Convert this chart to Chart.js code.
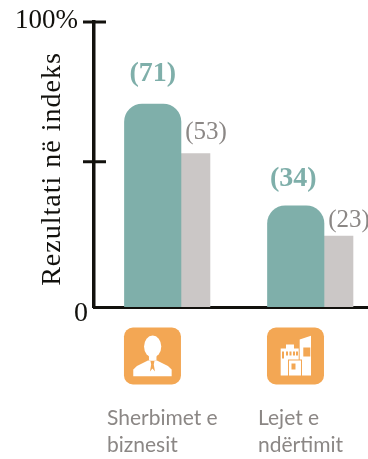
<!DOCTYPE html>
<html>
<head>
<meta charset="utf-8">
<style>html,body{margin:0;padding:0;background:#fff}#wrap{width:368px;height:459px}</style>
<script src="https://cdn.jsdelivr.net/npm/chart.js@4"></script>
</head>
<body>
<div id="wrap"><canvas id="c"></canvas></div>
<script>
const categories=[['Sherbimet e','biznesit'],['Lejet e','ndërtimit']];
const valuesMain=[71,34];
const valuesOther=[53,23];
const yTopLabel='100%';
const yBottomLabel='0';
const yTitle='Rezultati në indeks';

const SERIF='"Liberation Serif",serif';
const TEAL='#7fafaa',GREY='#cbc7c6',ORANGE='#f3a754',INK='#12110d',MUTED='#8b8785';
// the printed bars fit a scale whose ends sit just past 0 and 100,
// the "0" and "100%" marks are on those ends
const Y_FLOOR=-2.8;
const Y_CEIL=100.8;
const yTickValues=[50,Y_CEIL];
const ICON=57;

function person(ctx){
  ctx.fillStyle='#fff';
  ctx.beginPath();ctx.ellipse(28.7,19,8.6,11,0,0,Math.PI*2);ctx.fill();
  ctx.fillRect(25,27,7.5,6);
  ctx.beginPath();
  ctx.moveTo(9.3,48.7);ctx.lineTo(9.3,42);ctx.lineTo(13,38.5);ctx.lineTo(24,33);ctx.lineTo(33,33);
  ctx.lineTo(44,38.5);ctx.lineTo(47.7,42);ctx.lineTo(47.7,48.7);ctx.closePath();ctx.fill();
  ctx.fillStyle=ORANGE;
  ctx.beginPath();ctx.moveTo(26.5,33.5);ctx.lineTo(30.5,33.5);ctx.lineTo(29.8,37);ctx.lineTo(31,44);ctx.lineTo(28.5,41);ctx.lineTo(26,44);ctx.lineTo(27.2,37);ctx.closePath();ctx.fill();
}
function building(ctx){
  ctx.fillStyle='#fff';
  ctx.beginPath();ctx.moveTo(32.7,12);ctx.lineTo(44,8.3);ctx.lineTo(44,48);ctx.lineTo(32.7,48);ctx.closePath();ctx.fill();
  ctx.fillRect(13.7,21,18,27);
  ctx.fillRect(19,17,8,5);
  ctx.fillStyle=ORANGE;
  ctx.fillRect(36.3,20,7,9);
  [19,22.5,26,29].forEach(function(x){ctx.fillRect(x,24,2,4);});
  ctx.fillRect(15,24,2,7);
  ctx.fillStyle=ORANGE;ctx.fillRect(21,32,14,17);
  ctx.fillStyle='#fff';ctx.fillRect(22,33,12,15);
  ctx.fillStyle=ORANGE;ctx.fillRect(24.5,36,4,6);
}
const iconDrawers=[person,building];

const decor={
  id:'decor',
  afterDatasetsDraw(chart){
    const ctx=chart.ctx,y=chart.scales.y,x=chart.scales.x;
    const axisX=chart.chartArea.left;
    ctx.save();
    // ticks cross the axis on both sides
    ctx.strokeStyle=INK;ctx.lineWidth=3;
    yTickValues.forEach(function(v){
      const py=y.getPixelForValue(v);
      ctx.beginPath();ctx.moveTo(axisX-11,py);ctx.lineTo(axisX+12,py);ctx.stroke();
    });
    ctx.fillStyle=INK;ctx.textBaseline='alphabetic';
    ctx.font='27px '+SERIF;ctx.textAlign='right';
    ctx.fillText(yTopLabel,78,y.getPixelForValue(Y_CEIL)+6);
    ctx.font='28px '+SERIF;
    ctx.fillText(yBottomLabel,88,y.getPixelForValue(Y_FLOOR)+14);
    ctx.save();
    ctx.translate(60,169);ctx.rotate(-Math.PI/2);
    ctx.textAlign='center';ctx.font='28px '+SERIF;ctx.letterSpacing='1px';
    ctx.fillText(yTitle,0,0);
    ctx.restore();
    // value labels
    const main=chart.getDatasetMeta(0).data,other=chart.getDatasetMeta(1).data;
    ctx.textAlign='center';
    ctx.font='bold 28px '+SERIF;ctx.fillStyle=TEAL;
    main.forEach(function(b,i){ctx.fillText('('+valuesMain[i]+')',b.x-(i?2.5:0),b.y-(i?20:23));});
    ctx.font='25px '+SERIF;ctx.fillStyle=MUTED;
    other.forEach(function(b,i){ctx.fillText('('+valuesOther[i]+')',b.x+10.5,b.y-(i?9:14));});
    // icons and category names
    categories.forEach(function(lines,i){
      const c=x.getPixelForValue(i),left=c-ICON;
      ctx.fillStyle=ORANGE;
      ctx.beginPath();ctx.roundRect(left,327.5,ICON,ICON,9);ctx.fill();
      ctx.save();ctx.translate(left,327.5);iconDrawers[i](ctx);ctx.restore();
      ctx.fillStyle=MUTED;ctx.font='21px Lato,sans-serif';ctx.textAlign='left';
      const tx=c-(i?66:74);
      lines.forEach(function(t,j){ctx.fillText(t,tx,425+j*27);});
    });
    ctx.restore();
  }
};

new Chart(document.getElementById('c'),{
  type:'bar',
  data:{datasets:[
    {label:'main',data:valuesMain.map(function(v,i){return {x:i,y:v};}),backgroundColor:TEAL,barThickness:56.5,borderRadius:18,base:Y_FLOOR},
    {label:'other',data:valuesOther.map(function(v,i){return {x:i,y:v};}),backgroundColor:GREY,barThickness:29,base:Y_FLOOR}
  ]},
  options:{
    responsive:true,maintainAspectRatio:false,animation:false,
    layout:{padding:{top:22,left:0,right:0,bottom:0}},
    plugins:{legend:{display:false},tooltip:{enabled:false}},
    scales:{
      x:{type:'linear',offset:false,min:-0.608,max:1.3077,
        afterFit(s){s.height=152;},
        ticks:{display:false},grid:{display:false},
        border:{color:INK,width:3}},
      y:{min:Y_FLOOR,max:Y_CEIL,
        afterFit(s){s.width=94;},
        ticks:{display:false},grid:{display:false},
        border:{color:INK,width:3.5}}
    }
  },
  plugins:[decor]
});
</script>
</body>
</html>
